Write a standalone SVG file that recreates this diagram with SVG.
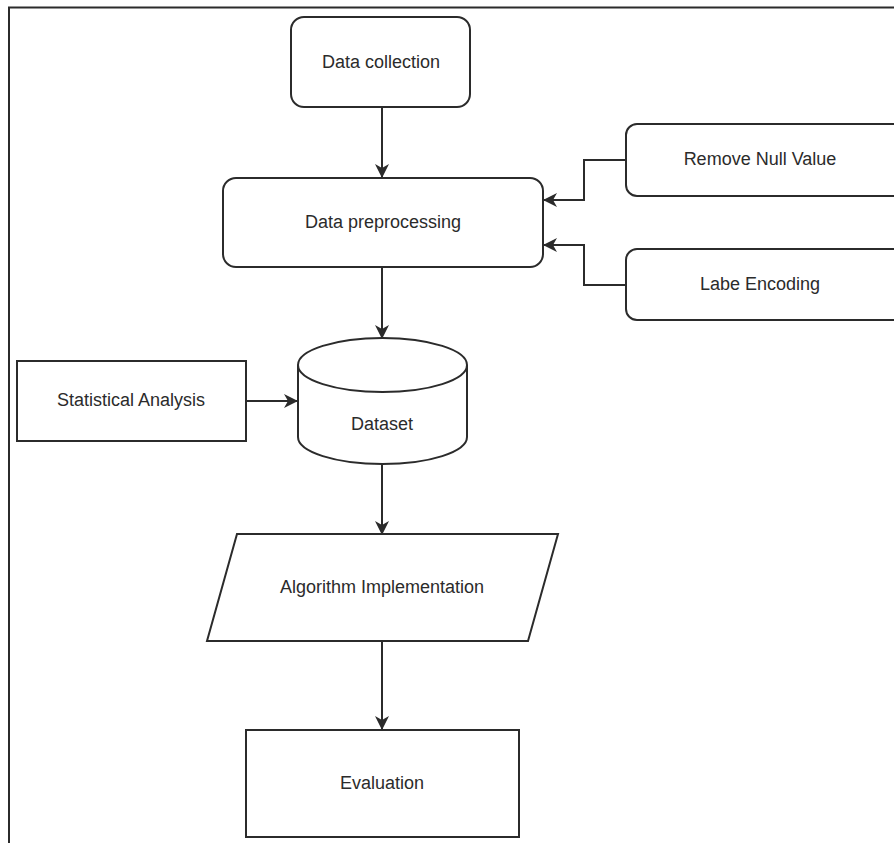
<svg xmlns="http://www.w3.org/2000/svg" width="894" height="843" viewBox="0 0 894 843">
<defs>
<style>
.shape{fill:#fff;stroke:#2b2b2b;stroke-width:2}
.frame{fill:none;stroke:#2b2b2b;stroke-width:2}
.edge{fill:none;stroke:#2b2b2b;stroke-width:2}
.lbl{font-family:"Liberation Sans",Arial,sans-serif;font-size:18px;fill:#2b2b2b;text-anchor:middle;dominant-baseline:central}
</style>
<marker id="arr" viewBox="0 0 14 14" refX="13" refY="7" markerWidth="14" markerHeight="14" markerUnits="userSpaceOnUse" orient="auto">
<path d="M0,0 L14,7 L0,14 L4,7 Z" fill="#2b2b2b"/>
</marker>
</defs>
<rect width="894" height="843" fill="#fff"/>
<path class="frame" d="M9,843 V7.5 H894"/>
<g id="connectors">
<path class="edge" d="M382,107 V177" marker-end="url(#arr)"/>
<path class="edge" d="M626,160 H584 V200 H544" marker-end="url(#arr)"/>
<path class="edge" d="M626,285 H584 V245 H544" marker-end="url(#arr)"/>
<path class="edge" d="M382,267 V338" marker-end="url(#arr)"/>
<path class="edge" d="M246,401 H297" marker-end="url(#arr)"/>
<path class="edge" d="M382,463 V534" marker-end="url(#arr)"/>
<path class="edge" d="M382,641 V729" marker-end="url(#arr)"/>
</g>
<g id="data-collection">
<rect class="shape" x="291" y="17" width="179" height="90" rx="13"/>
<text class="lbl" x="381" y="62">Data collection</text>
</g>
<g id="data-preprocessing">
<rect class="shape" x="223" y="178" width="320" height="89" rx="13"/>
<text class="lbl" x="383" y="222">Data preprocessing</text>
</g>
<g id="remove-null">
<rect class="shape" x="626" y="124" width="280" height="72" rx="11"/>
<text class="lbl" x="760" y="159">Remove Null Value</text>
</g>
<g id="label-encoding">
<rect class="shape" x="626" y="249" width="280" height="71" rx="11"/>
<text class="lbl" x="760" y="284">Labe Encoding</text>
</g>
<g id="statistical-analysis">
<rect class="shape" x="17" y="361" width="229" height="80"/>
<text class="lbl" x="131" y="400">Statistical Analysis</text>
</g>
<g id="dataset">
<path class="shape" d="M298,365 V437 A84.5,27 0 0 0 467,437 V365 A84.5,27 0 0 0 298,365 Z"/>
<path class="edge" d="M298,365 A84.5,27 0 0 0 467,365"/>
<text class="lbl" x="382" y="424">Dataset</text>
</g>
<g id="algorithm">
<path class="shape" d="M237,534 H558 L528,641 H207 Z"/>
<text class="lbl" x="382" y="587">Algorithm Implementation</text>
</g>
<g id="evaluation">
<rect class="shape" x="246" y="730" width="273" height="107"/>
<text class="lbl" x="382" y="783">Evaluation</text>
</g>
</svg>
